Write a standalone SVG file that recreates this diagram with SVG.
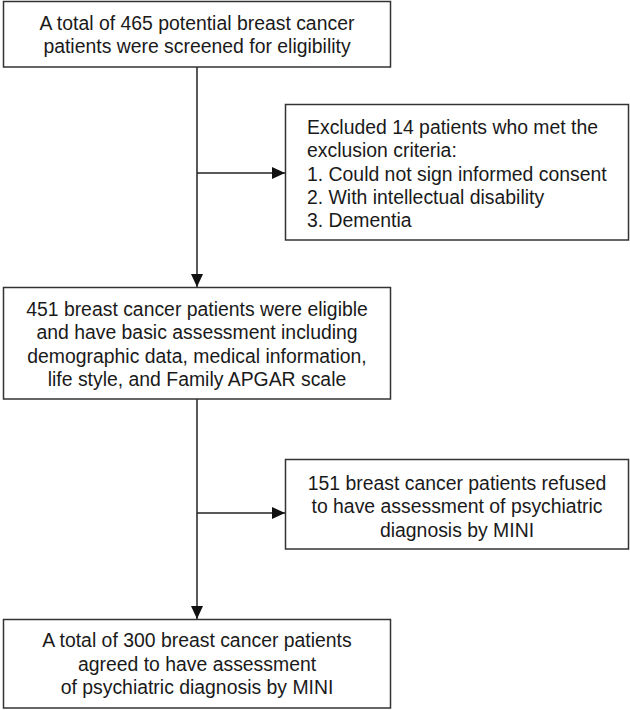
<svg xmlns="http://www.w3.org/2000/svg" width="630" height="710" viewBox="0 0 630 710">
<defs>
<style>
.box{fill:#fff;stroke:#333;stroke-width:1.5}
.t{font-family:"Liberation Sans",Arial,sans-serif;font-size:19.4px;fill:#1a1a1a}
.c{text-anchor:middle}
.ln{stroke:#222;stroke-width:1.5;fill:none}
</style>
<marker id="ah" viewBox="0 0 13 12" refX="13" refY="6" markerWidth="13" markerHeight="12" markerUnits="userSpaceOnUse" orient="auto">
<path d="M0,0 L13,6 L0,12 Z" fill="#111"/>
</marker>
</defs>
<rect width="630" height="710" fill="#fff"/>
<g id="connectors">
<line class="ln" x1="197" y1="67" x2="197" y2="287" marker-end="url(#ah)"/>
<line class="ln" x1="197" y1="173" x2="285" y2="173" marker-end="url(#ah)"/>
<line class="ln" x1="197" y1="399" x2="197" y2="619" marker-end="url(#ah)"/>
<line class="ln" x1="197" y1="513" x2="285" y2="513" marker-end="url(#ah)"/>
</g>
<g id="n1">
<rect class="box" x="3.5" y="1.5" width="387" height="65.5"/>
<text class="t c" x="197" y="30">A total of 465 potential breast cancer</text>
<text class="t c" x="197" y="53.3">patients were screened for eligibility</text>
</g>
<g id="n2">
<rect class="box" x="285.5" y="104.5" width="343" height="135.5"/>
<text class="t" x="307" y="134">Excluded 14 patients who met the</text>
<text class="t" x="307" y="157.3">exclusion criteria:</text>
<text class="t" x="307" y="180.6">1. Could not sign informed consent</text>
<text class="t" x="307" y="203.9">2. With intellectual disability</text>
<text class="t" x="307" y="227.2">3. Dementia</text>
</g>
<g id="n3">
<rect class="box" x="3.5" y="287.5" width="387" height="111.5"/>
<text class="t c" x="197" y="316">451 breast cancer patients were eligible</text>
<text class="t c" x="197" y="339.3">and have basic assessment including</text>
<text class="t c" x="197" y="362.6">demographic data, medical information,</text>
<text class="t c" x="197" y="385.9">life style, and Family APGAR scale</text>
</g>
<g id="n4">
<rect class="box" x="285.5" y="459.5" width="343" height="89.5"/>
<text class="t c" x="457" y="490">151 breast cancer patients refused</text>
<text class="t c" x="457" y="513.3">to have assessment of psychiatric</text>
<text class="t c" x="457" y="536.6">diagnosis by MINI</text>
</g>
<g id="n5">
<rect class="box" x="3.5" y="619.5" width="387" height="88.5"/>
<text class="t c" x="197" y="647.3">A total of 300 breast cancer patients</text>
<text class="t c" x="197" y="670.6">agreed to have assessment</text>
<text class="t c" x="197" y="693.9">of psychiatric diagnosis by MINI</text>
</g>
</svg>
